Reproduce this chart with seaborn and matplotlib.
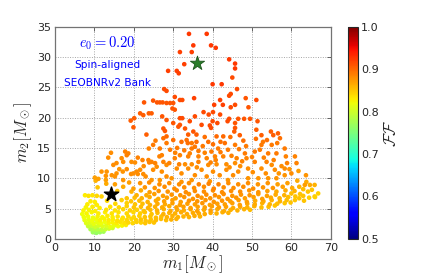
import numpy as np
import pandas as pd
import seaborn as sns
import matplotlib
matplotlib.use('Agg')
import matplotlib.pyplot as plt
from matplotlib.ticker import FormatStrFormatter

# ---- low band (m2 < ~9.7) ----
low_m1 = [
    9.6, 10.5, 11.4, 12.3, 10.1, 11.0,
    9.0, 9.9, 10.8, 11.8, 12.8, 13.7, 14.6,
    8.4, 9.3, 10.2, 11.1, 12.0, 13.0, 14.0, 15.0, 16.0, 17.0, 18.0,
    7.9, 8.8, 9.8, 10.7, 11.6, 12.6, 13.6, 14.6, 15.6, 16.6, 17.6, 18.6, 19.7, 20.7, 21.8, 22.9, 24.0, 25.1,
    7.5, 8.5, 9.4, 10.4, 11.4, 12.5, 13.6, 14.7, 15.8, 17.0, 18.2, 19.4, 20.6, 21.8, 23.0, 24.3, 25.6, 26.9, 28.2, 29.5, 30.8,
    7.3, 8.4, 9.6, 10.8, 12.0, 13.3, 14.6, 15.9, 17.2, 18.6, 20.0, 21.4, 22.8, 24.2, 25.6, 27.0, 28.4, 29.8, 31.2, 32.6, 34.0, 35.4, 36.8,
    6.9, 8.0, 9.3, 11.0, 12.7, 14.4, 16.1, 18.2, 19.9, 21.6, 22.8, 24.5, 26.0, 27.5, 29.0, 30.5, 32.0, 33.5, 35.0, 36.5, 38.0, 39.5, 41.0, 42.5, 44.0,
    7.2, 8.6, 10.2, 13.0, 15.2, 17.3, 19.0, 20.8, 22.5, 24.2, 25.9, 27.6, 29.3, 31.0, 32.7, 34.4, 36.1, 37.8, 39.5, 41.2, 42.9, 44.6, 46.3, 48.0, 49.5,
    7.8, 9.5, 11.3, 14.0, 16.2, 18.2, 20.0, 21.8, 23.6, 25.4, 27.2, 29.0, 30.8, 32.6, 34.4, 36.2, 38.0, 39.8, 41.6, 43.4, 45.2, 47.0, 48.8, 50.6, 52.4, 54.2, 55.8,
    8.2, 10.6, 15.3, 18.2, 20.3, 22.2, 24.1, 26.0, 27.9, 29.8, 31.7, 33.6, 35.5, 37.4, 39.3, 41.2, 43.1, 45.0, 46.9, 48.8, 50.7, 52.6, 54.5, 56.4, 58.3, 59.8,
    9.0, 10.1, 13.2, 16.9, 19.3, 21.4, 23.5, 25.6, 27.7, 29.8, 31.9, 34.0, 36.1, 38.2, 40.3, 42.4, 44.5, 46.6, 48.7, 50.8, 52.9, 55.0, 57.1, 58.8, 60.9, 62.0, 63.2,
    18.2, 20.2, 22.0, 24.0, 26.2, 28.4, 30.6, 32.8, 35.0, 37.2, 39.4, 41.6, 43.8, 46.0, 48.2, 50.4, 52.6, 54.8, 57.0, 59.2, 61.0, 63.0, 64.5, 66.0,
    7.6, 8.5, 9.5, 10.6, 11.8, 20.7, 23.2, 25.2, 27.4, 29.6, 31.8, 34.0, 36.2, 38.4, 40.6, 42.8, 45.0, 47.2, 49.4, 51.6, 53.8, 56.0, 58.2, 60.0, 62.2, 64.2, 66.8, 65.9,
    15.8, 19.4, 21.8, 24.0, 26.3, 28.6, 30.9, 33.2, 35.5, 37.8, 40.1, 42.4, 44.7, 47.0, 49.3, 51.6, 53.9, 56.2, 58.5, 60.8, 63.0, 65.2,
    10.8, 17.3, 19.9, 22.8, 25.3, 27.8, 30.3, 32.8, 35.3, 37.8, 40.3, 42.8, 45.3, 47.8, 50.3, 52.8, 55.3, 57.8, 60.2, 62.0,
    10.3, 13.0, 18.8, 21.6, 23.9, 26.5, 29.0, 31.5, 34.0, 36.5, 39.0, 41.5, 44.0, 46.5, 49.0, 51.5, 54.0, 56.5, 59.0, 61.5,
]
low_m2 = [
    1.1, 1.0, 1.1, 1.2, 1.4, 1.3,
    1.6, 1.7, 1.6, 1.5, 1.6, 1.7, 1.8,
    2.1, 2.2, 2.0, 2.2, 2.1, 2.2, 2.0, 2.2, 2.1, 2.2, 2.3,
    2.6, 2.7, 2.5, 2.7, 2.6, 2.8, 2.6, 2.7, 2.6, 2.8, 2.6, 2.7, 2.6, 2.8, 2.7, 2.6, 2.8, 2.7,
    3.1, 3.2, 3.0, 3.2, 3.1, 3.3, 3.1, 3.2, 3.0, 3.2, 3.1, 3.3, 3.1, 3.2, 3.0, 3.2, 3.1, 3.3, 3.1, 3.2, 3.3,
    3.6, 3.7, 3.5, 3.7, 3.6, 3.8, 3.6, 3.7, 3.5, 3.7, 3.6, 3.8, 3.6, 3.7, 3.5, 3.7, 3.6, 3.8, 3.6, 3.7, 3.6, 3.8, 3.7,
    4.1, 4.2, 4.4, 4.2, 4.4, 4.2, 4.4, 4.2, 4.4, 4.2, 4.4, 4.1, 4.3, 4.1, 4.3, 4.2, 4.4, 4.1, 4.3, 4.2, 4.1, 4.3, 4.2, 4.4, 4.3,
    4.7, 4.8, 4.6, 4.8, 4.7, 4.9, 4.7, 4.8, 4.6, 4.8, 4.7, 4.9, 4.6, 4.8, 4.7, 4.9, 4.6, 4.8, 4.7, 4.9, 4.6, 4.8, 4.7, 4.9, 4.8,
    5.2, 5.3, 5.1, 5.3, 5.2, 5.4, 5.2, 5.3, 5.1, 5.3, 5.2, 5.4, 5.2, 5.3, 5.1, 5.3, 5.2, 5.4, 5.2, 5.3, 5.1, 5.3, 5.2, 5.4, 5.2, 5.3, 5.5,
    5.7, 5.6, 5.8, 5.9, 5.7, 5.8, 5.6, 5.8, 5.7, 5.9, 5.6, 5.8, 5.7, 5.9, 5.6, 5.8, 5.7, 5.9, 5.6, 5.8, 5.7, 5.9, 5.7, 5.8, 5.9, 6.0,
    6.2, 6.1, 6.3, 6.4, 6.2, 6.3, 6.1, 6.3, 6.2, 6.4, 6.1, 6.3, 6.2, 6.4, 6.1, 6.3, 6.2, 6.4, 6.1, 6.3, 6.2, 6.4, 6.2, 6.4, 6.4, 6.7, 6.3,
    6.7, 6.8, 6.7, 6.9, 6.6, 6.8, 6.7, 6.9, 6.6, 6.8, 6.7, 6.9, 6.6, 6.8, 6.7, 6.9, 6.6, 6.8, 6.7, 6.9, 7.0, 7.1, 6.8, 6.9,
    7.2, 7.1, 7.2, 7.1, 7.0, 7.2, 7.2, 7.4, 7.1, 7.3, 7.2, 7.4, 7.1, 7.3, 7.2, 7.4, 7.1, 7.3, 7.2, 7.4, 7.1, 7.3, 7.2, 7.5, 7.4, 7.8, 7.5, 7.0,
    7.9, 7.8, 8.0, 7.7, 7.9, 7.8, 8.0, 7.7, 7.9, 7.8, 8.0, 7.7, 7.9, 7.8, 8.0, 7.7, 7.9, 7.8, 8.0, 7.9, 8.2, 8.1,
    8.5, 8.6, 8.3, 8.5, 8.4, 8.6, 8.3, 8.5, 8.4, 8.6, 8.3, 8.5, 8.4, 8.6, 8.3, 8.5, 8.4, 8.6, 8.4, 8.6,
    9.6, 9.1, 9.3, 9.2, 9.3, 9.0, 9.2, 9.0, 9.2, 9.0, 9.1, 9.0, 9.2, 9.0, 9.2, 9.0, 9.2, 9.0, 9.2, 9.6,
]
low_ff = [
    .77, .765, .77, .775, .775, .77,
    .78, .785, .785, .79, .795, .80, .80,
    .795, .80, .80, .805, .81, .81, .815, .815, .82, .825, .83,
    .81, .81, .815, .815, .82, .82, .825, .825, .83, .835, .835, .84, .84, .845, .845, .85, .85, .85,
    .815, .815, .82, .82, .825, .825, .83, .83, .835, .835, .84, .84, .845, .85, .85, .85, .855, .855, .855, .86, .86,
    .82, .82, .82, .825, .825, .83, .83, .835, .835, .84, .84, .845, .85, .85, .855, .855, .86, .86, .86, .86, .86, .865, .86,
    .82, .825, .825, .83, .83, .835, .835, .84, .84, .845, .85, .85, .855, .86, .86, .86, .865, .865, .865, .865, .865, .865, .86, .86, .86,
    .825, .825, .83, .835, .835, .84, .845, .845, .85, .855, .86, .86, .865, .865, .865, .865, .87, .865, .87, .865, .865, .86, .86, .86, .855,
    .825, .83, .83, .835, .84, .845, .85, .855, .86, .86, .865, .865, .87, .87, .87, .87, .87, .87, .87, .87, .865, .865, .86, .86, .855, .855, .85,
    .83, .83, .84, .845, .85, .855, .86, .865, .865, .87, .87, .87, .87, .875, .87, .87, .87, .87, .87, .865, .865, .86, .86, .855, .85, .85,
    .83, .83, .84, .845, .85, .855, .86, .865, .87, .87, .87, .875, .875, .875, .875, .875, .87, .87, .87, .865, .865, .86, .86, .855, .85, .85, .85,
    .85, .855, .86, .865, .865, .87, .87, .875, .875, .875, .875, .875, .875, .875, .87, .87, .87, .865, .86, .855, .85, .85, .845, .845,
    .83, .835, .835, .84, .845, .86, .865, .87, .87, .875, .875, .875, .88, .88, .88, .88, .875, .875, .875, .87, .87, .865, .86, .855, .85, .85, .845, .845,
    .85, .86, .865, .87, .875, .875, .88, .88, .88, .88, .88, .88, .88, .88, .875, .875, .87, .865, .865, .86, .855, .85,
    .85, .865, .87, .875, .875, .88, .88, .88, .88, .88, .885, .88, .88, .88, .88, .875, .875, .87, .865, .86,
    .86, .865, .87, .875, .88, .88, .88, .88, .88, .885, .885, .885, .88, .88, .88, .875, .875, .87, .87, .865,
]

# ---- middle part (m2 ~ 9 - 17) ----
mid_m1 = [
    23.8, 24.9, 17.8, 18.2, 18.6, 19.4, 16.9, 14.8, 15.6, 11.8, 13.1, 10.1, 11.0, 14.4, 15.2, 15.6,
    17.2, 18.2, 19.9, 20.7, 21.6, 24.5, 25.4, 27.5, 28.3, 29.2, 33.4, 34.7, 35.5, 34.2, 14.2, 13.5,
    21.0, 22.2, 17.3, 16.3, 20.3, 23.9, 21.0, 12.9, 12.9, 17.3, 19.3, 22.4, 23.0, 15.2,
    26.6, 32.1, 33.7, 35.9, 34.7, 36.4, 38.9, 40.1, 41.4, 43.1, 45.7, 46.7, 43.9, 39.7, 23.7, 27.1,
    27.5, 30.4, 31.7, 33.8, 36.4, 36.4, 38.5, 40.6, 42.7, 44.8, 46.1, 33.0, 34.7, 38.9, 41.0, 43.5,
    45.7, 28.3, 25.8, 24.9, 27.1, 28.3, 30.9, 32.1, 33.8, 35.5, 37.2, 38.5, 40.1, 41.8, 43.5, 45.2,
    46.5, 24.5, 26.6, 29.6, 32.1, 34.7, 39.3, 43.9,
    48.2, 48.6, 50.7, 50.7, 53.7, 55.0, 49.0, 52.4, 55.8, 49.0, 51.6, 54.1, 56.2, 58.3, 52.4, 58.3,
    56.2, 52.0, 54.1, 58.6, 58.9, 60.9, 61.3, 58.3, 60.0, 63.7, 63.4, 64.7, 65.9, 63.8, 52.8, 55.0,
    56.4, 57.1,
    47.5, 50.0, 53.0, 55.5, 57.5, 50.2, 53.5, 56.8, 59.5, 61.8, 48.5, 51.0, 53.8, 47.8,
    25.5, 30.0, 31.0, 37.5, 38.0, 42.0, 44.5, 30.5, 32.8, 38.0, 40.8, 42.0, 29.0, 31.5, 36.0, 39.5,
    44.3, 47.0, 22.5, 26.5,
]
mid_m2 = [
    14.9, 15.5, 14.4, 13.8, 14.1, 12.7, 13.3, 12.2, 12.5, 11.1, 11.1, 10.1, 9.9, 10.5, 10.3, 10.8,
    11.1, 11.5, 10.8, 11.1, 11.4, 12.7, 12.5, 16.6, 15.8, 14.7, 16.3, 15.8, 15.2, 14.1, 14.2, 13.4,
    13.4, 13.0, 12.7, 11.5, 12.6, 12.6, 10.7, 10.4, 9.7, 9.7, 10.7, 10.7, 10.3, 9.0,
    14.9, 16.0, 15.8, 16.0, 14.9, 14.5, 16.0, 15.6, 14.9, 15.8, 15.5, 14.8, 14.7, 14.4, 13.0, 13.8,
    12.7, 13.3, 13.8, 13.6, 13.6, 12.7, 13.3, 13.6, 13.6, 13.7, 13.3, 12.3, 12.3, 12.2, 12.3, 12.3,
    12.5, 12.2, 11.9, 11.4, 11.1, 10.3, 11.6, 10.8, 11.6, 10.5, 11.4, 10.3, 11.1, 10.5, 11.4, 10.5,
    11.1, 9.7, 9.7, 10.0, 9.4, 9.7, 9.5, 9.7,
    14.1, 13.3, 14.4, 12.7, 12.7, 12.2, 11.6, 11.6, 11.4, 10.0, 10.0, 10.0, 10.0, 10.5, 15.5, 14.9,
    14.1, 14.7, 14.1, 13.6, 12.5, 13.6, 12.5, 11.6, 10.8, 10.5, 8.9, 8.9, 8.9, 9.4, 16.0, 15.5,
    15.8, 16.6,
    12.8, 13.5, 13.4, 13.0, 12.0, 11.0, 10.8, 10.8, 11.5, 11.2, 15.3, 16.5, 16.3, 16.2,
    16.2, 16.3, 15.0, 15.3, 16.8, 16.0, 16.8, 14.2, 14.6, 14.2, 13.0, 14.3, 12.5, 12.3, 11.8, 12.6,
    11.8, 12.0, 12.0, 13.6,
]
mid_ff = [
    .885, .89, .885, .885, .885, .88, .88, .88, .88, .875, .875, .87, .87, .875, .875, .875,
    .875, .88, .88, .88, .88, .885, .885, .895, .89, .89, .895, .89, .89, .885, .88, .88,
    .885, .885, .88, .875, .88, .885, .88, .875, .87, .875, .88, .88, .88, .87,
    .89, .895, .895, .895, .89, .89, .895, .895, .89, .895, .89, .89, .89, .89, .885, .885,
    .885, .885, .885, .885, .885, .885, .885, .885, .885, .885, .885, .88, .88, .88, .88, .88,
    .88, .88, .88, .88, .88, .88, .88, .88, .88, .88, .88, .88, .88, .88, .88, .88,
    .88, .875, .875, .875, .875, .875, .875, .875,
    .89, .885, .89, .885, .885, .88, .88, .88, .88, .875, .875, .875, .875, .875, .89, .89,
    .89, .89, .89, .885, .885, .885, .885, .88, .88, .875, .87, .865, .86, .865, .89, .89,
    .89, .895,
    .885, .885, .885, .885, .88, .88, .88, .875, .875, .87, .89, .895, .895, .895,
    .89, .895, .89, .89, .895, .895, .895, .885, .89, .885, .885, .89, .885, .885, .88, .885,
    .88, .88, .88, .885,
]

# ---- sparse upper part (m2 > ~17) ----
top_m1 = [
    34.0, 38.5, 35.1, 39.6, 40.8, 31.7, 34.7, 32.8, 44.2, 45.7, 45.7, 28.7, 30.9, 31.4, 45.0, 40.0,
    42.3, 27.7, 28.3, 46.2, 30.4, 31.7, 32.3, 35.3, 44.6, 44.2, 48.4, 51.1, 41.9, 25.9, 26.6, 27.3,
    28.3, 29.2, 30.0, 24.9, 22.6, 40.4, 42.6, 44.6, 45.7, 49.1, 21.6, 23.8, 24.5, 27.2,
    29.8, 30.4, 31.7, 32.3, 37.7, 39.0, 40.1, 41.9, 35.5, 30.0, 31.7, 28.3, 19.2, 20.1, 19.9, 22.4,
    44.2, 43.8, 46.5, 48.0, 49.5, 51.4, 40.0, 41.2, 39.3, 39.6, 45.7, 45.7, 34.2, 33.0, 35.1, 37.2,
    27.5, 27.9, 23.2, 31.3, 51.1, 52.4, 54.8, 55.4, 56.6, 46.9, 45.5, 28.3, 33.8, 35.9, 41.0, 42.7,
]
top_m2 = [
    33.8, 33.8, 31.9, 31.9, 31.5, 30.8, 30.8, 28.8, 29.6, 28.9, 28.1, 27.7, 27.7, 27.3, 26.6, 25.5,
    25.5, 24.7, 24.4, 24.7, 23.4, 22.9, 22.9, 23.2, 23.9, 23.6, 23.2, 22.9, 22.9, 22.5, 22.5, 22.5,
    22.4, 22.4, 22.4, 22.8, 22.5, 22.1, 22.1, 21.7, 22.1, 21.7, 20.7, 20.7, 20.7, 20.2,
    21.5, 21.3, 19.9, 19.9, 20.9, 20.5, 20.9, 20.5, 20.2, 19.1, 18.8, 19.6, 19.5, 19.9, 18.4, 20.4,
    19.8, 19.4, 19.8, 19.8, 19.8, 19.4, 19.4, 19.1, 18.7, 18.3, 19.1, 18.3, 19.4, 18.2, 17.7, 18.8,
    18.2, 17.8, 17.2, 18.5, 18.0, 17.1, 17.7, 17.1, 17.4, 17.1, 17.7, 16.9, 17.2, 17.2, 16.9, 16.9,
]
top_ff = [
    .925, .925, .925, .925, .925, .92, .92, .92, .925, .925, .925, .92, .92, .92, .915, .925,
    .925, .915, .915, .915, .915, .915, .915, .92, .915, .915, .91, .915, .92, .91, .91, .91,
    .91, .91, .91, .91, .91, .92, .92, .915, .915, .91, .905, .905, .905, .91,
    .91, .91, .915, .915, .915, .915, .915, .915, .915, .91, .91, .91, .905, .905, .905, .905,
    .915, .915, .91, .91, .91, .91, .915, .915, .915, .915, .91, .91, .915, .91, .91, .915,
    .91, .91, .905, .91, .905, .905, .905, .905, .905, .905, .905, .9, .905, .905, .9, .9,
]

# templates marked with stars
green_star = (36.0, 29.0)
black_star = (14.2, 7.4)

df = pd.DataFrame({
    'm1': low_m1 + mid_m1 + top_m1,
    'm2': low_m2 + mid_m2 + top_m2,
    'ff': low_ff + mid_ff + top_ff,
})
df = df.sort_values('ff')

sns.set_style('white')
plt.rcParams['font.family'] = ['DejaVu Sans']
plt.rcParams['mathtext.fontset'] = 'cm'

jet = matplotlib.colormaps['jet']

fig = plt.figure(figsize=(4.44, 2.74), dpi=100)
ax = fig.add_axes([0.124, 0.128, 0.621, 0.775])
cax = fig.add_axes([0.783, 0.128, 0.024, 0.775])

sns.scatterplot(data=df, x='m1', y='m2', hue='ff', palette=jet, hue_norm=(0.5, 1.0),
                s=11, linewidth=0, legend=False, ax=ax, zorder=3)

ax.scatter([green_star[0]], [green_star[1]], marker='*', s=115, color='#2b7d2b',
           edgecolors='#1d561d', linewidths=0.6, zorder=5)
ax.scatter([black_star[0]], [black_star[1]], marker='*', s=115, color='black', zorder=5)

ax.set_xlim(0, 70)
ax.set_ylim(0, 35)
ax.set_xticks(range(0, 71, 10))
ax.set_yticks(range(0, 36, 5))
ax.grid(True, linestyle=(0, (1, 1.5)), color='0.65', linewidth=0.7)
ax.tick_params(direction='in', top=True, right=True, length=3, width=0.6,
               labelsize=8, color='0.3', pad=3)
for sp in ax.spines.values():
    sp.set_color('0.45')
    sp.set_linewidth(0.9)

ax.set_xlabel(r'$m_1[M_\odot]$', fontsize=12, labelpad=0)
ax.set_ylabel(r'$m_2[M_\odot]$', fontsize=12, labelpad=2)

ax.text(13.2, 32.2, r'$e_0=0.20$', color='blue', fontsize=10.5, ha='center', va='center')
ax.text(13.2, 28.6, 'Spin-aligned', color='blue', fontsize=7.6, ha='center', va='center')
ax.text(13.2, 25.7, 'SEOBNRv2 Bank', color='blue', fontsize=7.6, ha='center', va='center')

sm = plt.cm.ScalarMappable(cmap=jet, norm=plt.Normalize(0.5, 1.0))
cb = fig.colorbar(sm, cax=cax, ticks=np.arange(0.5, 1.01, 0.1))
cb.ax.yaxis.set_major_formatter(FormatStrFormatter('%.1f'))
cb.ax.tick_params(labelsize=8, length=0, pad=2)
cb.outline.set_linewidth(0.8)
cb.set_label(r'$\mathcal{FF}$', fontsize=12, labelpad=2)

fig.savefig('out.png', dpi=100)
